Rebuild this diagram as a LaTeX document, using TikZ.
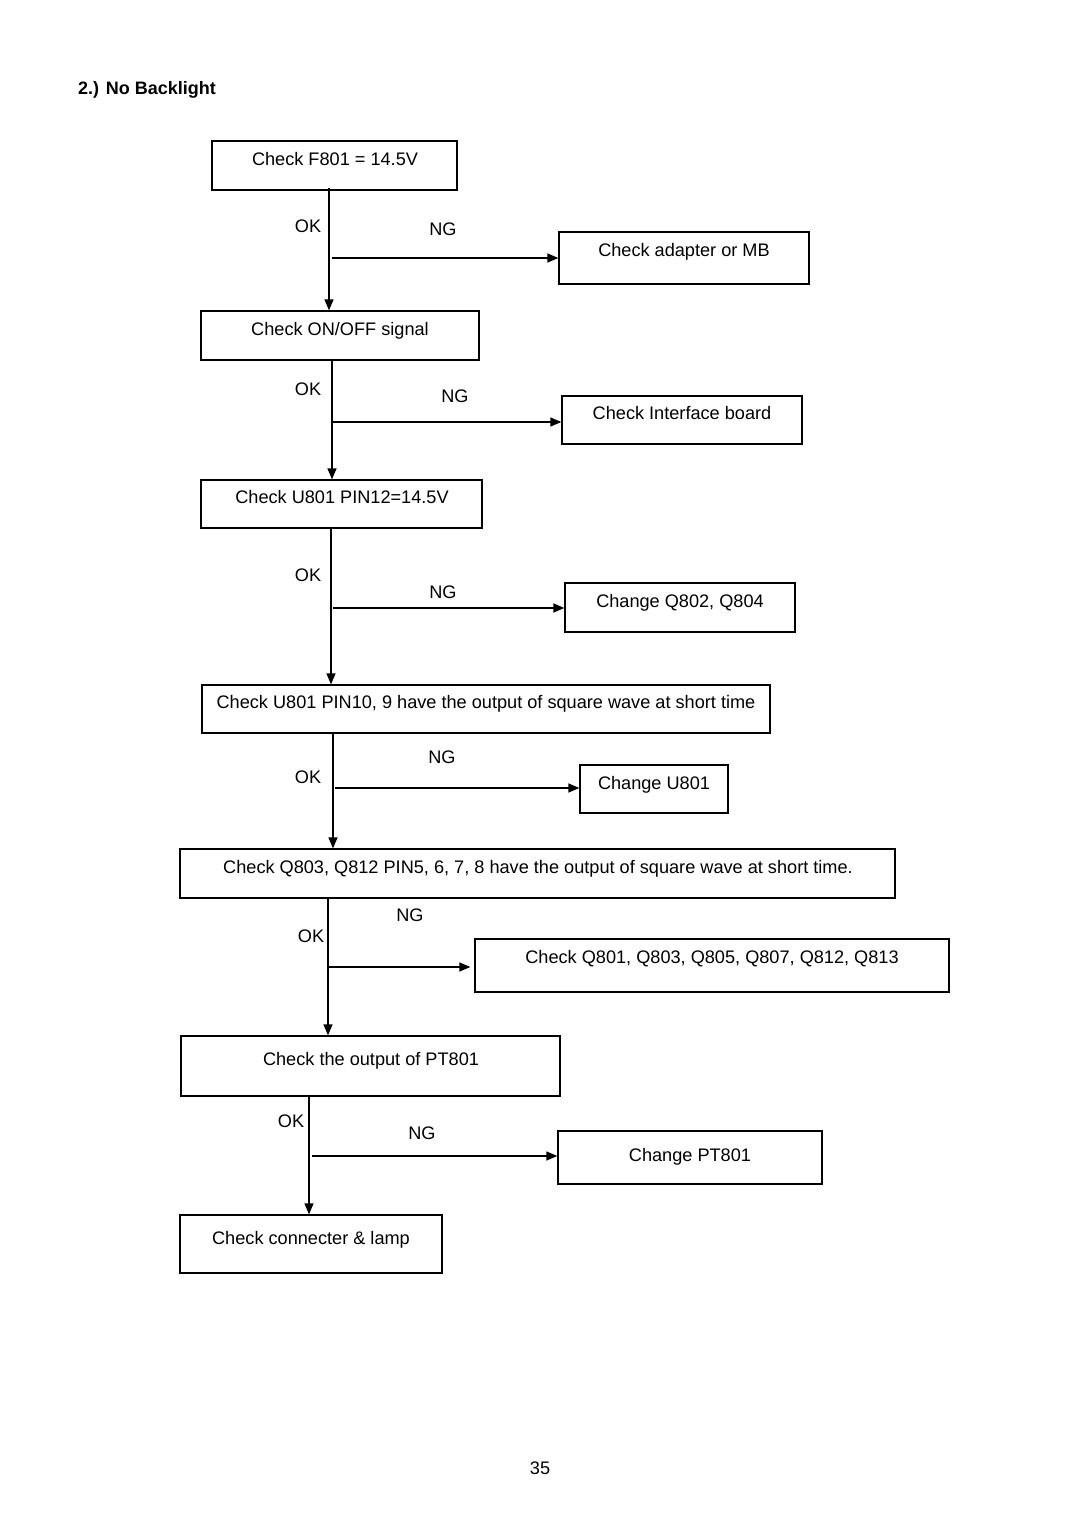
\documentclass[tikz,border=0pt]{standalone}
\usepackage{fontspec}
\setmainfont{Liberation Sans}
\usetikzlibrary{arrows.meta}
\begin{document}
\begin{tikzpicture}[x=1pt,y=-1pt,
  box/.style={draw,line width=1.3pt,inner sep=0pt,rectangle},
  txt/.style={anchor=base,inner sep=0pt,font=\fontsize{18.15}{21.6}\selectfont},
  lbl/.style={anchor=base,inner sep=0pt,font=\fontsize{18.15}{21.6}\selectfont},
  arr/.style={line width=1.3pt,-{Triangle[length=11pt,width=9pt]}}]
\useasboundingbox (0,0) rectangle (1080,1528);
\fill[white] (0,0) rectangle (1080,1528);
\node[anchor=base west,inner sep=0pt,font=\fontsize{18}{21.6}\selectfont\bfseries] (title) at (78,94.5) {2.) No Backlight};
% boxes
\node[box,minimum width=245,minimum height=49] (b1) at (334.5,165.5) {};
\node[box,minimum width=250,minimum height=52] (b2) at (684,258) {};
\node[box,minimum width=278,minimum height=49] (b3) at (340,335.5) {};
\node[box,minimum width=240,minimum height=48] (b4) at (682,420) {};
\node[box,minimum width=281,minimum height=48] (b5) at (341.5,504) {};
\node[box,minimum width=230,minimum height=49] (b6) at (680,607.5) {};
\node[box,minimum width=568,minimum height=48] (b7) at (486,709) {};
\node[box,minimum width=148,minimum height=48] (b8) at (654,789) {};
\node[box,minimum width=715,minimum height=49] (b9) at (537.5,873.5) {};
\node[box,minimum width=474,minimum height=53] (b10) at (712,965.5) {};
\node[box,minimum width=379,minimum height=60] (b11) at (370.5,1066) {};
\node[box,minimum width=264,minimum height=53] (b12) at (690,1157.5) {};
\node[box,minimum width=262,minimum height=58] (b13) at (311,1244) {};
% texts
\node[txt] (t1) at (335,165.5) {Check F801 = 14.5V};
\node[txt] (t2) at (684,256.5) {Check adapter or MB};
\node[txt] (t3) at (340,335.5) {Check ON/OFF signal};
\node[txt] (t4) at (682,419.5) {Check Interface board};
\node[txt] (t5) at (342,503.5) {Check U801 PIN12=14.5V};
\node[txt] (t6) at (680,607.5) {Change Q802, Q804};
\node[txt] (t7) at (486,708.5) {Check U801 PIN10, 9 have the output of square wave at short time};
\node[txt] (t8) at (654,789.5) {Change U801};
\node[txt] (t9) at (538,873.5) {Check Q803, Q812 PIN5, 6, 7, 8 have the output of square wave at short time.};
\node[txt] (t10) at (712,963.5) {Check Q801, Q803, Q805, Q807, Q812, Q813};
\node[txt] (t11) at (371,1065.5) {Check the output of PT801};
\node[txt] (t12) at (690,1161.5) {Change PT801};
\node[txt] (t13) at (311,1244.5) {Check connecter \& lamp};
% junctions
\coordinate (j1) at (329,258);
\coordinate (j2) at (332,422);
\coordinate (j3) at (331,608);
\coordinate (j4) at (333,788);
\coordinate (j5) at (328,967);
\coordinate (j6) at (309,1156);
% vertical arrows
\draw[arr] ([yshift=3]b1.south -| j1) -- (b3.north -| j1);
\draw[arr] (b3.south -| j2) -- (b5.north -| j2);
\draw[arr] ([yshift=2]b5.south -| j3) -- (b7.north -| j3);
\draw[arr] (b7.south -| j4) -- (b9.north -| j4);
\draw[arr] ([yshift=2]b9.south -| j5) -- (b11.north -| j5);
\draw[arr] (b11.south -| j6) -- (b13.north -| j6);
% horizontal arrows
\draw[arr] ([xshift=3]j1) -- (j1 -| b2.west);
\draw[arr] (j2) -- (j2 -| b4.west);
\draw[arr] ([xshift=2]j3) -- (j3 -| b6.west);
\draw[arr] ([xshift=2]j4) -- (j4 -| b8.west);
\draw[arr] ([xshift=1]j5) -- ([xshift=-4]j5 -| b10.west);
\draw[arr] ([xshift=3]j6) -- (j6 -| b12.west);
% labels
\node[lbl] (ok1) at (308,232.5) {OK};
\node[lbl] (ng1) at (443,235.5) {NG};
\node[lbl] (ok2) at (308,395.5) {OK};
\node[lbl] (ng2) at (455,402.5) {NG};
\node[lbl] (ok3) at (308,581.5) {OK};
\node[lbl] (ng3) at (443,598.5) {NG};
\node[lbl] (ng4) at (442,763.5) {NG};
\node[lbl] (ok4) at (308,783.5) {OK};
\node[lbl] (ng5) at (410,921.5) {NG};
\node[lbl] (ok5) at (311,942.5) {OK};
\node[lbl] (ok6) at (291,1127.5) {OK};
\node[lbl] (ng6) at (422,1139.5) {NG};
\node[lbl] (pg) at (540,1474.5) {35};
\end{tikzpicture}
\end{document}
